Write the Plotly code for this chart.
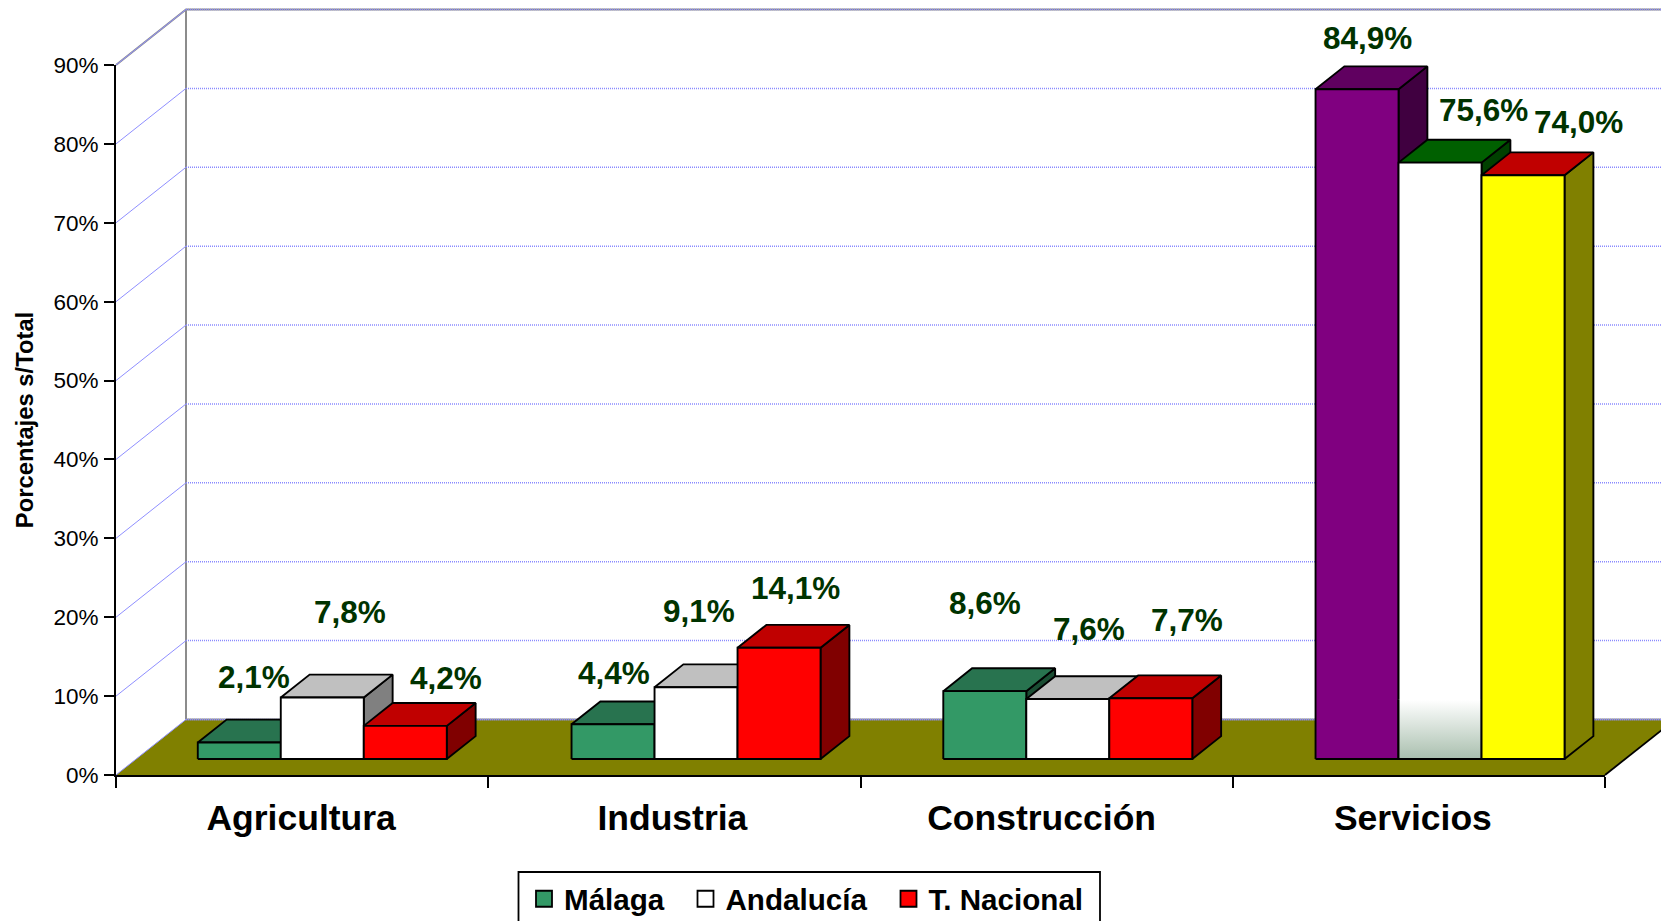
import plotly.graph_objects as go

categories = ["Agricultura", "Industria", "Construcción", "Servicios"]
malaga = [2.1, 4.4, 8.6, 84.9]
andalucia = [7.8, 9.1, 7.6, 75.6]
nacional = [4.2, 14.1, 7.7, 74.0]
series_names = ["Málaga", "Andalucía", "T. Nacional"]
y_ticks = [0, 10, 20, 30, 40, 50, 60, 70, 80, 90]

# Styles
W, H = 1661, 921
ML, MR, MT, MB = 116, 56, 65, 146
X_PX = (W - ML - MR) / len(categories)   # pixels per category
Y_PX = (H - MT - MB) / y_ticks[-1]       # pixels per percent
DEPTH_X = 70 / X_PX        # category units
DEPTH_Y = 55.5 / Y_PX      # percent units
T0, T1 = 0.288, 0.70       # bar front / back position in the depth of the floor
BAR_W = 83 / X_PX
FONT = "Liberation Sans"
LABEL_COL = "#003300"
GRID = "#8f8fff"
WALL = "#8c8c8c"
EDGE = 1.9
# front, top, side per series; last group has its own colours
FACE = [("#339966", "#28734f", "#1a4d33"), ("#ffffff", "#c0c0c0", "#808080"), ("#ff0000", "#c00000", "#800000")]
FACE_LAST = [("#800080", "#600060", "#400040"), ("#ffffff", "#006000", "#004000"), ("#ffff00", "#c00000", "#808000")]
# pixel offsets of data labels from the top centre of their bars
label_shift = [[(15, 65), (28, 85), (41, 48)],
               [(2, 51), (4.5, 76.5), (18, 60)],
               [(1.4, 88), (22, 70), (37, 78)],
               [(11.6, 51.6), (44, 53), (56, 53)]]
group_nudge_px = [0, 1.5, 1, 1]
tick_label_nudge_px = [-1, -2, -5, -6]
legend_px = [524, 685.5, 888.5]
LEGEND_TOP = 873

fig = go.Figure()
n = len(categories)


def poly(xs, ys, fill, line="#000000", width=EDGE, **kw):
    fig.add_trace(go.Scatter(x=xs + xs[:1], y=ys + ys[:1], mode="lines", fill="toself", fillcolor=fill,
                             xaxis="x2", yaxis="y2",
                             line=dict(color=line, width=width, simplify=False),
                             hoverinfo="skip", showlegend=False, **kw))


def line(xs, ys, color, width=1, dash="solid"):
    fig.add_trace(go.Scatter(x=xs, y=ys, mode="lines", line=dict(color=color, width=width, dash=dash),
                             xaxis="x2", yaxis="y2", hoverinfo="skip", showlegend=False))


xmax = n
# real axes carry nothing but their line, ticks and labels
fig.add_trace(go.Scatter(x=[None], y=[None], mode="lines", showlegend=False, hoverinfo="skip"))
# floor
poly([0, xmax, xmax + DEPTH_X, DEPTH_X], [0, 0, DEPTH_Y, DEPTH_Y], "#808000", line="rgba(0,0,0,0)", width=0)
line([xmax, xmax + DEPTH_X], [0, DEPTH_Y], "#000000", 1.8)
# walls and grid
line([DEPTH_X, DEPTH_X], [DEPTH_Y, y_ticks[-1] + DEPTH_Y], WALL, 2)
line([0, DEPTH_X, xmax + DEPTH_X], [y_ticks[-1], y_ticks[-1] + DEPTH_Y, y_ticks[-1] + DEPTH_Y], WALL, 2)
line([DEPTH_X, xmax + DEPTH_X], [DEPTH_Y, DEPTH_Y], WALL, 2)
for v in y_ticks:
    line([0, DEPTH_X], [v, v + DEPTH_Y], GRID, 1)
    line([DEPTH_X, xmax + DEPTH_X], [v + DEPTH_Y, v + DEPTH_Y], "#8a8aff", 1.5, "1px,1px")

# bars
series = [malaga, andalucia, nacional]
annotations = []
for c in range(n):
    for s in range(3):
        v = series[s][c]
        x0 = c + 0.5 + (s - 1.5) * BAR_W + T0 * DEPTH_X + group_nudge_px[c] / X_PX
        x1 = x0 + BAR_W
        y0 = T0 * DEPTH_Y
        ddx = (T1 - T0) * DEPTH_X
        ddy = (T1 - T0) * DEPTH_Y
        front, top, side = (FACE_LAST if c == n - 1 else FACE)[s]
        poly([x1, x1 + ddx, x1 + ddx, x1], [y0, y0 + ddy, y0 + v + ddy, y0 + v], side)
        poly([x0, x1, x1 + ddx, x0 + ddx], [y0 + v, y0 + v, y0 + v + ddy, y0 + v + ddy], top)
        poly([x0, x1, x1, x0], [y0, y0, y0 + v, y0 + v], front)
        if c == n - 1 and s == 1:
            # fade at the base of the white bar
            poly([x0, x1, x1, x0], [y0, y0, y0 + 7.5, y0 + 7.5], "#ffffff", line="rgba(0,0,0,0)", width=0,
                 fillgradient=dict(type="vertical", start=y0, stop=y0 + 7.5,
                                   colorscale=[[0, "#a9bfae"], [1, "#ffffff"]]))
            line([x0, x0], [y0, y0 + 7.5], "#000000", EDGE)
            line([x1, x1], [y0, y0 + 7.5], "#000000", EDGE)
            line([x0, x1], [y0, y0], "#000000", EDGE)
        sx, sy = label_shift[c][s]
        annotations.append(dict(x=(x0 + x1) / 2, y=y0 + v, xref="x2", yref="y2", showarrow=False,
                                xshift=sx - group_nudge_px[c], yshift=sy, xanchor="center", yanchor="middle",
                                text=f"{v:.1f}".replace(".", ",") + "%",
                                font=dict(family=FONT, size=31.5, color=LABEL_COL, weight="bold")))

# legend entries, one small legend each
legends = {}
for i, (name, col) in enumerate(zip(series_names, [FACE[0][0], FACE[1][0], FACE[2][0]])):
    key = "legend" if i == 0 else f"legend{i + 1}"
    fig.add_trace(go.Scatter(x=[None], y=[None], mode="markers", name=name, legend=key,
                             marker=dict(symbol="square", size=16, color=col, line=dict(color="#000000", width=1.8))))
    legends[key] = dict(orientation="h", x=legend_px[i] / W, y=(H - LEGEND_TOP) / H,
                        xanchor="left", yanchor="top", bgcolor="rgba(0,0,0,0)", borderwidth=0, itemwidth=30,
                        itemclick=False, itemdoubleclick=False,
                        font=dict(family=FONT, size=29.6, color="#000000", weight="bold"))

fig.update_layout(
    width=W, height=H, autosize=False,
    margin=dict(l=0, r=0, t=0, b=0, pad=0, autoexpand=False),
    paper_bgcolor="#ffffff", plot_bgcolor="rgba(0,0,0,0)",
    font=dict(family=FONT, color="#000000"),
    annotations=annotations,
    xaxis=dict(domain=[ML / W, (W - MR) / W], range=[0, xmax], tickmode="array",
               tickvals=[i + 0.5 + tick_label_nudge_px[i] / X_PX for i in range(n)], ticktext=categories,
               ticks="", showgrid=False, zeroline=False, showline=True, linecolor="#000000", linewidth=2,
               tickfont=dict(family=FONT, size=35.5, color="#000000", weight="bold"), ticklabelstandoff=10,
               minor=dict(tickmode="array", tickvals=list(range(n + 1)), ticks="outside", ticklen=11,
                          tickwidth=1.5, tickcolor="#000000", showgrid=False)),
    yaxis=dict(domain=[MB / H, (H - MT) / H], range=[0, y_ticks[-1]], tickmode="array", tickvals=y_ticks,
               ticktext=[f"{v}%" for v in y_ticks],
               ticks="outside", ticklen=10, tickwidth=1.5, tickcolor="#000000", showgrid=False, zeroline=False,
               showline=True, linecolor="#000000", linewidth=2, ticklabelstandoff=1,
               tickfont=dict(family=FONT, size=22.5, color="#000000"),
               title=dict(text="<b>Porcentajes s/Total</b>", standoff=13,
                          font=dict(family=FONT, size=23.8, color="#000000"))),
    xaxis2=dict(domain=[0, 1], range=[-ML / X_PX, (W - ML) / X_PX], visible=False, anchor="y2"),
    yaxis2=dict(domain=[0, 1], range=[-MB / Y_PX, (H - MB) / Y_PX], visible=False, anchor="x2"),
    showlegend=True,
    shapes=[dict(type="rect", xref="paper", yref="paper", x0=518.5 / W, x1=1100 / W, y0=(H - 872) / H, y1=-0.05,
                 line=dict(color="#000000", width=1.8), fillcolor="rgba(0,0,0,0)", layer="below")],
    **legends,
)

fig.write_html("out.html", config=dict(displayModeBar=False),
               post_script="document.body.style.margin='0';document.body.style.overflow='hidden';")
